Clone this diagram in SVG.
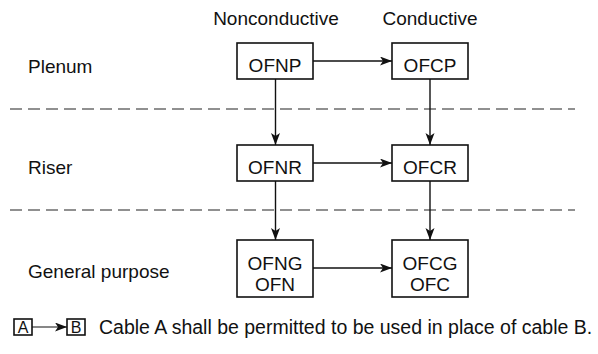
<svg xmlns="http://www.w3.org/2000/svg" width="598" height="354" viewBox="0 0 598 354">
<style>
text{font-family:"Liberation Sans",Arial,sans-serif;fill:#111;font-size:19px}
.box{fill:#fff;stroke:#111;stroke-width:1.6}
.c{text-anchor:middle}
.arr{stroke:#111;stroke-width:1.4;fill:none;marker-end:url(#ah)}
.dash{stroke:#222;stroke-width:1.2;stroke-dasharray:12 6;fill:none}
</style>
<defs>
<marker id="ah" markerUnits="userSpaceOnUse" markerWidth="13" markerHeight="10" refX="12" refY="4.5" orient="auto">
<path d="M0,0 L12,4.5 L0,9 L3,4.5 z" fill="#111"/>
</marker>
</defs>
<g id="headers">
<text class="c" x="276" y="25">Nonconductive</text>
<text class="c" x="430" y="25">Conductive</text>
</g>
<g id="rowlabels">
<text x="28" y="73">Plenum</text>
<text x="28" y="174">Riser</text>
<text x="28" y="278">General purpose</text>
</g>
<g id="separators">
<line class="dash" x1="10" y1="109" x2="575" y2="109"/>
<line class="dash" x1="10" y1="210" x2="575" y2="210"/>
</g>
<g id="connectors">
<line class="arr" x1="313" y1="61" x2="392" y2="61"/>
<line class="arr" x1="313" y1="163" x2="392" y2="163"/>
<line class="arr" x1="313" y1="268" x2="392" y2="268"/>
<line class="arr" x1="275.5" y1="79" x2="275.5" y2="145"/>
<line class="arr" x1="275.5" y1="181" x2="275.5" y2="240"/>
<line class="arr" x1="430" y1="79" x2="430" y2="145"/>
<line class="arr" x1="430" y1="181" x2="430" y2="240"/>
</g>
<g id="OFNP"><rect class="box" x="237" y="43" width="76" height="36"/><text class="c" x="275" y="72">OFNP</text></g>
<g id="OFCP"><rect class="box" x="392" y="43" width="76" height="36"/><text class="c" x="430" y="72">OFCP</text></g>
<g id="OFNR"><rect class="box" x="237" y="145" width="76" height="36"/><text class="c" x="275" y="174">OFNR</text></g>
<g id="OFCR"><rect class="box" x="392" y="145" width="76" height="36"/><text class="c" x="430" y="174">OFCR</text></g>
<g id="OFNG"><rect class="box" x="237" y="240" width="76" height="57"/><text class="c" x="275" y="270">OFNG</text><text class="c" x="275" y="291">OFN</text></g>
<g id="OFCG"><rect class="box" x="392" y="240" width="76" height="57"/><text class="c" x="430" y="270">OFCG</text><text class="c" x="430" y="291">OFC</text></g>
<g id="legend">
<rect class="box" x="14" y="319" width="18" height="16" stroke-width="1.2"/>
<text class="c" x="23" y="333" style="font-size:16px">A</text>
<line class="arr" x1="32" y1="327" x2="67" y2="327" style="stroke-width:1.2"/>
<rect class="box" x="67" y="319" width="18" height="16" stroke-width="1.2"/>
<text class="c" x="76" y="333" style="font-size:16px">B</text>
<text x="99" y="334" style="font-size:19.5px">Cable A shall be permitted to be used in place of cable B.</text>
</g>
</svg>
